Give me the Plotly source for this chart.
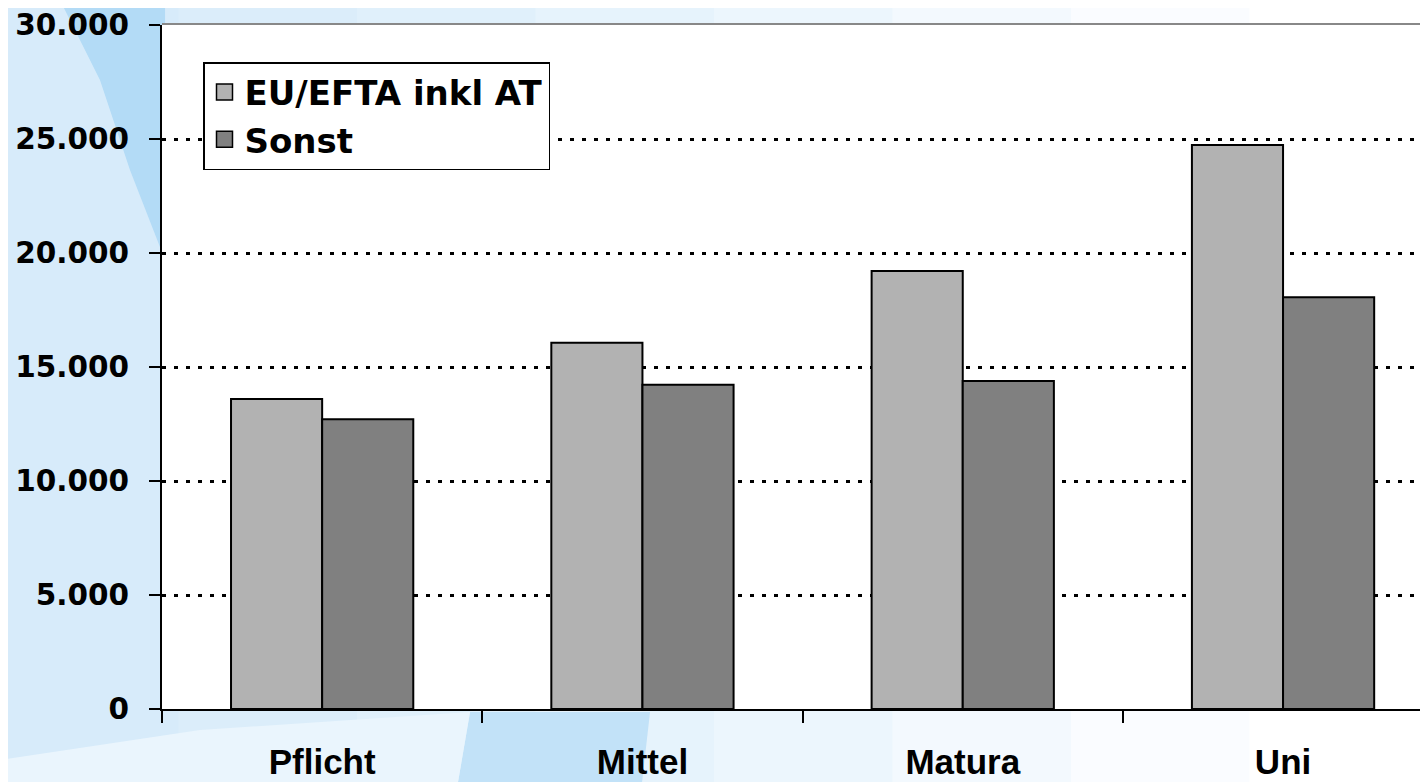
import plotly.graph_objects as go

# Data
categories = ['Pflicht', 'Mittel', 'Matura', 'Uni']
eu_efta = [13600, 16060, 19210, 24740]
sonst = [12710, 14220, 14390, 18060]

y_ticks = [0, 5000, 10000, 15000, 20000, 25000, 30000]

series = [
    ('EU/EFTA inkl AT', eu_efta, '#b2b2b2'),
    ('Sonst', sonst, '#808080'),
]

# the page puts the figure 8px in from the corner, so margins are shifted by that
OFF = 8
L, T, W, H = 162, 25, 1266, 684   # plot area in page pixels


def px(x, y):
    """page pixel -> paper coordinates"""
    return (x - L) / W, (T + H - y) / H


def rect(x0, y0, x1, y1, color):
    a, b = px(x0, y0)
    c, d = px(x1, y1)
    return dict(type='rect', xref='paper', yref='paper', x0=a, y0=b, x1=c, y1=d,
                fillcolor=color, line=dict(width=0), layer='below')


def path(points, color):
    pts = [px(x, y) for x, y in points]
    p = 'M ' + ' L '.join(f'{a:.4f},{b:.4f}' for a, b in pts) + ' Z'
    return dict(type='path', xref='paper', yref='paper', path=p,
                fillcolor=color, line=dict(width=0), layer='below')


# light blue backdrop fading to white on the right
shapes = []
strips = ['#d7ebfa', '#dbedfa', '#e0f0fb', '#e6f3fc', '#ecf6fd', '#f3f9fe', '#fafcff', '#ffffff']
sw = 1428 / len(strips)
for i, c in enumerate(strips):
    shapes.append(rect(i * sw, 0, (i + 1) * sw + 1, 800, c))
# darker swooshes
shapes.append(path([(60, 0), (165, 0), (165, 260), (130, 170), (100, 80)], '#b3dbf6'))
shapes.append(path([(455, 800), (470, 712), (650, 712), (640, 800)], '#c2e2f8'))
shapes.append(path([(0, 800), (0, 760), (200, 730), (470, 712), (455, 800)], '#eaf5fd'))
# white plot area
shapes.append(dict(type='rect', xref='paper', yref='paper', x0=0, y0=0, x1=1, y1=1,
                   fillcolor='#ffffff', line=dict(width=0), layer='below'))

# grey top border of the plot area
shapes.append(dict(type='line', xref='paper', yref='paper', x0=0, x1=1,
                   y0=1 + 1 / H, y1=1 + 1 / H, line=dict(color='#888888', width=2),
                   layer='above'))

fig = go.Figure()

for i, (name, vals, color) in enumerate(series):
    fig.add_trace(go.Bar(
        x=categories, y=vals, name=name,
        marker=dict(color=color, line=dict(color='#000000', width=2)),
        legendgroup=f'g{i}', showlegend=False,
    ))
    # legend-only entry so the swatch can be a bigger square
    fig.add_trace(go.Scatter(
        x=[None], y=[None], name=name, mode='markers',
        marker=dict(symbol='square', size=16, color=color,
                    line=dict(color='#000000', width=1.5)),
        legendgroup=f'g{i}', hoverinfo='skip',
    ))

fig.update_layout(
    width=1428, height=782,
    margin=dict(l=L - OFF, r=1428 - (L - OFF) - W, t=T - OFF, b=782 - (T - OFF) - H),
    barmode='group', bargap=0.431, bargroupgap=0,
    paper_bgcolor='#e4f1fb', plot_bgcolor='#ffffff',
    separators=',.',
    font=dict(family='Liberation Sans, Arial', color='#000000', weight='bold'),
    shapes=shapes,
    showlegend=True,
    legend=dict(
        x=(203 - L) / W, y=1 - (62 - T) / H, xanchor='left', yanchor='top',
        bgcolor='#ffffff', bordercolor='#000000', borderwidth=1.5,
        font=dict(size=34, family='DejaVu Sans', weight='bold'),
        tracegroupgap=10, traceorder='normal', itemsizing='trace',
    ),
    xaxis=dict(
        type='category', range=[-0.5, -0.5 + W / 320.3], automargin=False,
        showline=True, linecolor='#000000', linewidth=2,
        ticks='outside', tickson='boundaries', ticklen=12, tickwidth=2, tickcolor='#000000',
        showgrid=False, ticklabelstandoff=21,
        tickfont=dict(size=35, family='Liberation Sans, Arial', weight='bold'),
    ),
    yaxis=dict(
        range=[0, 30000], tickvals=y_ticks, tickformat=',d', automargin=False,
        showline=True, linecolor='#000000', linewidth=2,
        ticks='outside', ticklen=11, tickwidth=1.5, tickcolor='#000000',
        showgrid=True, gridcolor='#000000', gridwidth=2.5, griddash='4px,8px',
        zeroline=False, ticklabelstandoff=14,
        tickfont=dict(size=29.5, family='DejaVu Sans', weight='bold'),
    ),
)

fig.write_html('out.html')
